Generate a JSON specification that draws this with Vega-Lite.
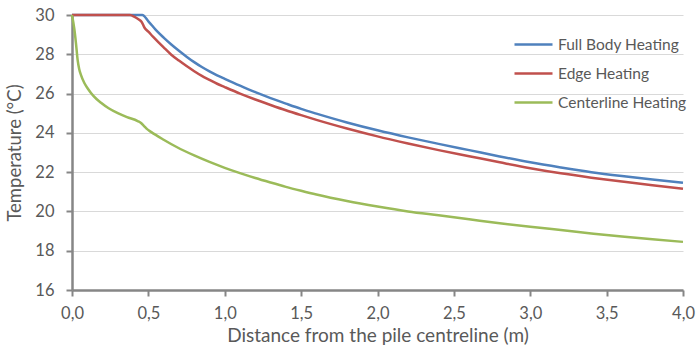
{
  "$schema": "https://vega.github.io/schema/vega-lite/v6.json",
  "autosize": {"type": "none"},
  "padding": {"left": 72, "top": 15, "right": 14, "bottom": 57},
  "width": 611,
  "height": 275,
  "background": "white",
  "config": {
    "font": "Lato",
    "view": {"stroke": null}
  },
  "data": {"values": [
    {"s": "Full Body Heating", "x": 0, "t": 30}, {"s": "Full Body Heating", "x": 0.46, "t": 30}, {"s": "Full Body Heating", "x": 0.5, "t": 29.68}, {"s": "Full Body Heating", "x": 0.55, "t": 29.23},
    {"s": "Full Body Heating", "x": 0.6, "t": 28.85}, {"s": "Full Body Heating", "x": 0.65, "t": 28.5}, {"s": "Full Body Heating", "x": 0.7, "t": 28.18}, {"s": "Full Body Heating", "x": 0.75, "t": 27.88},
    {"s": "Full Body Heating", "x": 0.8, "t": 27.6}, {"s": "Full Body Heating", "x": 0.85, "t": 27.35}, {"s": "Full Body Heating", "x": 0.9, "t": 27.13}, {"s": "Full Body Heating", "x": 0.95, "t": 26.93},
    {"s": "Full Body Heating", "x": 1.0, "t": 26.75}, {"s": "Full Body Heating", "x": 1.1, "t": 26.4}, {"s": "Full Body Heating", "x": 1.2, "t": 26.07}, {"s": "Full Body Heating", "x": 1.3, "t": 25.77},
    {"s": "Full Body Heating", "x": 1.4, "t": 25.49}, {"s": "Full Body Heating", "x": 1.5, "t": 25.22}, {"s": "Full Body Heating", "x": 1.6, "t": 24.98}, {"s": "Full Body Heating", "x": 1.8, "t": 24.53},
    {"s": "Full Body Heating", "x": 2.0, "t": 24.13}, {"s": "Full Body Heating", "x": 2.2, "t": 23.77}, {"s": "Full Body Heating", "x": 2.4, "t": 23.44}, {"s": "Full Body Heating", "x": 2.6, "t": 23.12},
    {"s": "Full Body Heating", "x": 2.8, "t": 22.8}, {"s": "Full Body Heating", "x": 3.0, "t": 22.5}, {"s": "Full Body Heating", "x": 3.2, "t": 22.24}, {"s": "Full Body Heating", "x": 3.4, "t": 22.0},
    {"s": "Full Body Heating", "x": 3.6, "t": 21.8}, {"s": "Full Body Heating", "x": 3.8, "t": 21.62}, {"s": "Full Body Heating", "x": 4.0, "t": 21.46},

    {"s": "Edge Heating", "x": 0, "t": 30}, {"s": "Edge Heating", "x": 0.38, "t": 30}, {"s": "Edge Heating", "x": 0.41, "t": 29.9}, {"s": "Edge Heating", "x": 0.435, "t": 29.78},
    {"s": "Edge Heating", "x": 0.455, "t": 29.66}, {"s": "Edge Heating", "x": 0.475, "t": 29.35}, {"s": "Edge Heating", "x": 0.5, "t": 29.15}, {"s": "Edge Heating", "x": 0.53, "t": 28.9},
    {"s": "Edge Heating", "x": 0.6, "t": 28.35}, {"s": "Edge Heating", "x": 0.65, "t": 27.98}, {"s": "Edge Heating", "x": 0.7, "t": 27.68}, {"s": "Edge Heating", "x": 0.75, "t": 27.4},
    {"s": "Edge Heating", "x": 0.8, "t": 27.14}, {"s": "Edge Heating", "x": 0.85, "t": 26.9}, {"s": "Edge Heating", "x": 0.9, "t": 26.7}, {"s": "Edge Heating", "x": 0.95, "t": 26.5},
    {"s": "Edge Heating", "x": 1.0, "t": 26.33}, {"s": "Edge Heating", "x": 1.1, "t": 26.0}, {"s": "Edge Heating", "x": 1.2, "t": 25.7}, {"s": "Edge Heating", "x": 1.3, "t": 25.42},
    {"s": "Edge Heating", "x": 1.4, "t": 25.15}, {"s": "Edge Heating", "x": 1.5, "t": 24.9}, {"s": "Edge Heating", "x": 1.6, "t": 24.66}, {"s": "Edge Heating", "x": 1.8, "t": 24.22},
    {"s": "Edge Heating", "x": 2.0, "t": 23.82}, {"s": "Edge Heating", "x": 2.2, "t": 23.46}, {"s": "Edge Heating", "x": 2.4, "t": 23.12}, {"s": "Edge Heating", "x": 2.6, "t": 22.81},
    {"s": "Edge Heating", "x": 2.8, "t": 22.5}, {"s": "Edge Heating", "x": 3.0, "t": 22.2}, {"s": "Edge Heating", "x": 3.2, "t": 21.94}, {"s": "Edge Heating", "x": 3.4, "t": 21.72},
    {"s": "Edge Heating", "x": 3.6, "t": 21.52}, {"s": "Edge Heating", "x": 3.8, "t": 21.33}, {"s": "Edge Heating", "x": 4.0, "t": 21.16},

    {"s": "Centerline Heating", "x": 0, "t": 30}, {"s": "Centerline Heating", "x": 0.015, "t": 29.3}, {"s": "Centerline Heating", "x": 0.026, "t": 28.56}, {"s": "Centerline Heating", "x": 0.037, "t": 27.7},
    {"s": "Centerline Heating", "x": 0.047, "t": 27.25}, {"s": "Centerline Heating", "x": 0.059, "t": 26.94}, {"s": "Centerline Heating", "x": 0.08, "t": 26.55}, {"s": "Centerline Heating", "x": 0.103, "t": 26.26},
    {"s": "Centerline Heating", "x": 0.14, "t": 25.88}, {"s": "Centerline Heating", "x": 0.19, "t": 25.53}, {"s": "Centerline Heating", "x": 0.24, "t": 25.25}, {"s": "Centerline Heating", "x": 0.3, "t": 25.0},
    {"s": "Centerline Heating", "x": 0.36, "t": 24.8}, {"s": "Centerline Heating", "x": 0.43, "t": 24.6}, {"s": "Centerline Heating", "x": 0.452, "t": 24.5}, {"s": "Centerline Heating", "x": 0.47, "t": 24.36},
    {"s": "Centerline Heating", "x": 0.49, "t": 24.2}, {"s": "Centerline Heating", "x": 0.517, "t": 24.05}, {"s": "Centerline Heating", "x": 0.6, "t": 23.65}, {"s": "Centerline Heating", "x": 0.685, "t": 23.28},
    {"s": "Centerline Heating", "x": 0.8, "t": 22.85}, {"s": "Centerline Heating", "x": 0.9, "t": 22.52}, {"s": "Centerline Heating", "x": 1.0, "t": 22.22}, {"s": "Centerline Heating", "x": 1.1, "t": 21.95},
    {"s": "Centerline Heating", "x": 1.2, "t": 21.7}, {"s": "Centerline Heating", "x": 1.3, "t": 21.47}, {"s": "Centerline Heating", "x": 1.4, "t": 21.25}, {"s": "Centerline Heating", "x": 1.5, "t": 21.05},
    {"s": "Centerline Heating", "x": 1.6, "t": 20.86}, {"s": "Centerline Heating", "x": 1.8, "t": 20.53}, {"s": "Centerline Heating", "x": 2.0, "t": 20.25}, {"s": "Centerline Heating", "x": 2.2, "t": 20.0},
    {"s": "Centerline Heating", "x": 2.4, "t": 19.8}, {"s": "Centerline Heating", "x": 2.6, "t": 19.6}, {"s": "Centerline Heating", "x": 2.8, "t": 19.4}, {"s": "Centerline Heating", "x": 3.0, "t": 19.22},
    {"s": "Centerline Heating", "x": 3.2, "t": 19.05}, {"s": "Centerline Heating", "x": 3.4, "t": 18.88}, {"s": "Centerline Heating", "x": 3.6, "t": 18.72}, {"s": "Centerline Heating", "x": 3.8, "t": 18.58},
    {"s": "Centerline Heating", "x": 4.0, "t": 18.45}
  ]},
  "mark": {"type": "line", "strokeWidth": 2.5, "interpolate": "monotone"},
  "encoding": {
    "x": {
      "field": "x", "type": "quantitative",
      "scale": {"domain": [0, 4], "nice": false, "zero": false},
      "axis": {
        "title": "Distance from the pile centreline (m)",
        "values": [0, 0.5, 1, 1.5, 2, 2.5, 3, 3.5, 4],
        "labelExpr": "replace(format(datum.value, '.1f'), '.', ',')",
        "labelFlush": false,
        "grid": false,
        "domainColor": "#868686", "domainWidth": 2.5,
        "tickColor": "#868686", "tickWidth": 2, "tickSize": 6,
        "labelColor": "#595959", "labelFontSize": 16.5, "labelPadding": 9,
        "titleColor": "#595959", "titleFontSize": 19, "titleFontWeight": "normal", "titlePadding": 5
      }
    },
    "y": {
      "field": "t", "type": "quantitative",
      "scale": {"domain": [16, 30], "nice": false, "zero": false},
      "axis": {
        "title": "Temperature (°C)",
        "values": [16, 18, 20, 22, 24, 26, 28, 30],
        "labelFlush": false,
        "grid": true, "gridColor": "#d9d9d9", "gridWidth": 1,
        "domainColor": "#868686", "domainWidth": 2.5,
        "tickColor": "#868686", "tickWidth": 2, "tickSize": 6,
        "labelColor": "#595959", "labelFontSize": 16.5, "labelPadding": 12,
        "titleColor": "#595959", "titleFontSize": 18.5, "titleFontWeight": "normal", "titlePadding": 10
      }
    },
    "color": {
      "field": "s", "type": "nominal",
      "scale": {
        "domain": ["Full Body Heating", "Edge Heating", "Centerline Heating"],
        "range": ["#4F81BD", "#C0504D", "#9BBB59"]
      },
      "legend": {
        "title": null,
        "orient": "none",
        "legendX": 441,
        "legendY": 9,
        "symbolType": "stroke",
        "symbolSize": 1444,
        "symbolStrokeWidth": 2.5,
        "labelColor": "#595959",
        "labelFontSize": 15.5,
        "labelOffset": 4,
        "rowPadding": -9
      }
    }
  }
}
